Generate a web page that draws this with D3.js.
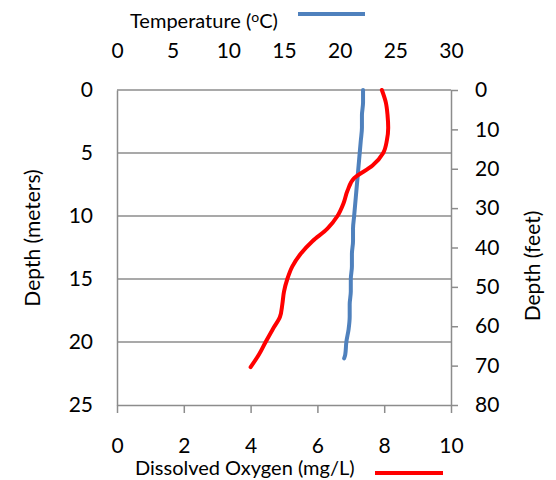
<!DOCTYPE html>
<html>
<head>
<meta charset="utf-8">
<script src="https://cdn.jsdelivr.net/npm/d3@7"></script>
<style>
  body { margin: 0; background: #fff; }
  svg { font-family: Lato, "Open Sans", sans-serif; }
</style>
</head>
<body>
<svg id="chart" width="556" height="480"></svg>
<script>
// depth profile readings
var tempDepth = [0, 1, 2, 3, 4, 5, 6, 7, 8, 9, 10, 11, 12, 13, 14, 15, 16, 17, 18, 19, 20, 21, 21.3];
var tempC = [22.1, 22.1, 22.0, 22.0, 21.9, 21.8, 21.7, 21.6, 21.5, 21.4, 21.3, 21.2, 21.2, 21.1, 21.1, 21.0, 21.0, 20.9, 20.9, 20.8, 20.6, 20.5, 20.4];

var doDepth = [0, 1, 2, 3, 4, 5, 6, 7, 8, 9, 10, 11, 12, 13, 14, 15, 16, 17, 18, 19, 20, 21, 22];
var doMgL = [7.93, 8.05, 8.10, 8.12, 8.08, 7.97, 7.65, 7.10, 6.90, 6.78, 6.60, 6.30, 5.85, 5.50, 5.25, 5.10, 5.00, 4.95, 4.88, 4.66, 4.45, 4.25, 4.00];

var meterTicks = [0, 5, 10, 15, 20, 25];
var feetTicks = [0, 10, 20, 30, 40, 50, 60, 70, 80];
var tempTicks = [0, 5, 10, 15, 20, 25, 30];
var doTicks = [0, 2, 4, 6, 8, 10];

d3.select(window).on('load', init);

function init() {

    var svg = d3.select('#chart');
    var pLeft = 117, pRight = 451, pTop = 90, pBottom = 405;
    var gridColor = '#8c8c8c';

    var y = d3.scaleLinear().domain([0, 25]).range([pTop, pBottom]);
    var yFeet = d3.scaleLinear().domain([0, 80]).range([pTop, pBottom]);
    var xTemp = d3.scaleLinear().domain([0, 30]).range([pLeft, pRight]);
    var xDO = d3.scaleLinear().domain([0, 10]).range([pLeft, pRight]);

    //gridlines
    svg.append('g')
        .selectAll('line')
        .data(meterTicks.slice(0, -1))
        .enter()
        .append('line')
        .attr('x1', pLeft).attr('x2', pRight)
        .attr('y1', function(d){ return y(d); })
        .attr('y2', function(d){ return y(d); })
        .style('stroke', gridColor)
        .style('stroke-width', 1.5);

    //left axis (meters)
    var gLeft = svg.append('g').attr('transform', 'translate(' + pLeft + ',0)')
        .call(d3.axisLeft(y).tickValues(meterTicks).tickSize(0).tickPadding(24));

    //right axis (feet)
    var gRight = svg.append('g').attr('transform', 'translate(' + pRight + ',0)')
        .call(d3.axisRight(yFeet).tickValues(feetTicks).tickSize(7).tickSizeOuter(0).tickPadding(17));

    //bottom axis (dissolved oxygen)
    var gBottom = svg.append('g').attr('transform', 'translate(0,' + pBottom + ')')
        .call(d3.axisBottom(xDO).tickValues(doTicks).tickSize(8).tickSizeOuter(0).tickPadding(40));

    //top axis (temperature) - labels only
    var gTop = svg.append('g').attr('transform', 'translate(0,' + pTop + ')')
        .call(d3.axisTop(xTemp).tickValues(tempTicks).tickSize(0).tickPadding(32));
    gTop.select('.domain').remove();

    [gLeft, gRight, gBottom].forEach(function(g){
        g.selectAll('.domain, .tick line')
            .style('stroke', gridColor)
            .style('stroke-width', 1.5);
    });
    [gLeft, gRight, gBottom, gTop].forEach(function(g){
        g.selectAll('.tick text')
            .style('font-family', 'Lato, "Open Sans", sans-serif')
            .style('font-size', '21px')
            .style('fill', '#000');
    });
    gBottom.selectAll('.tick text').attr('dy', '0');
    gTop.selectAll('.tick text').attr('dy', '0');

    //series
    var lineTemp = d3.line()
        .x(function(d){ return xTemp(d[1]); })
        .y(function(d){ return y(d[0]); })
        .curve(d3.curveMonotoneY);

    var lineDO = d3.line()
        .x(function(d){ return xDO(d[1]); })
        .y(function(d){ return y(d[0]); })
        .curve(d3.curveMonotoneY);

    svg.append('path')
        .datum(d3.zip(tempDepth, tempC))
        .attr('d', lineTemp)
        .style('fill', 'none')
        .style('stroke', '#4f81bd')
        .style('stroke-width', 4)
        .style('stroke-linejoin', 'round')
        .style('stroke-linecap', 'round');

    svg.append('path')
        .datum(d3.zip(doDepth, doMgL))
        .attr('d', lineDO)
        .style('fill', 'none')
        .style('stroke', '#ff0000')
        .style('stroke-width', 4)
        .style('stroke-linejoin', 'round')
        .style('stroke-linecap', 'round');

    //titles
    var tTitle = svg.append('text')
        .attr('x', 130).attr('y', 28)
        .style('font-size', '20px');
    tTitle.append('tspan').text('Temperature (');
    tTitle.append('tspan').text('o').attr('dy', -6).style('font-size', '14px');
    tTitle.append('tspan').text('C)').attr('dy', 6);

    svg.append('line')
        .attr('x1', 298).attr('x2', 365)
        .attr('y1', 14).attr('y2', 14)
        .style('stroke', '#4f81bd').style('stroke-width', 4);

    svg.append('text')
        .attr('x', 135).attr('y', 475)
        .style('font-size', '20px')
        .text('Dissolved Oxygen (mg/L)');

    svg.append('line')
        .attr('x1', 375).attr('x2', 443)
        .attr('y1', 473).attr('y2', 473)
        .style('stroke', '#ff0000').style('stroke-width', 4);

    svg.append('text')
        .attr('transform', 'translate(40,238) rotate(-90)')
        .attr('text-anchor', 'middle')
        .style('font-size', '21px')
        .text('Depth (meters)');

    svg.append('text')
        .attr('transform', 'translate(540,266) rotate(-90)')
        .attr('text-anchor', 'middle')
        .style('font-size', '21px')
        .text('Depth (feet)');
}
</script>
</body>
</html>
